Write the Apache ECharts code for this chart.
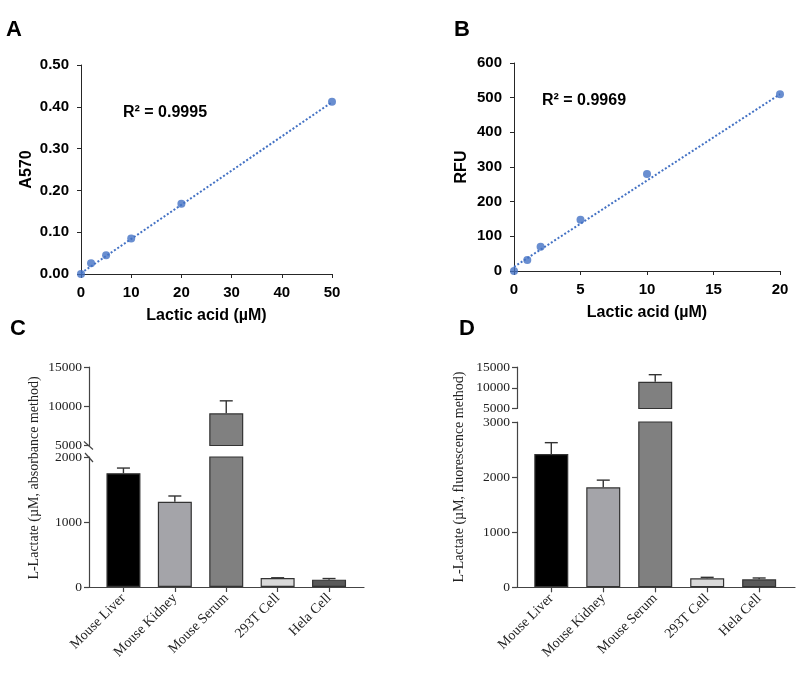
<!DOCTYPE html>
<html>
<head>
<meta charset="utf-8">
<script src="https://cdn.jsdelivr.net/npm/echarts@6.0.0/dist/echarts.min.js"></script>
<style>
html, body { margin: 0; padding: 0; background: #fff; }
#main { width: 806px; height: 673px; }
</style>
</head>
<body>
<div id="main"></div>
<script>
// A: absorbance standard curve
var concA = [0, 2, 5, 10, 20, 50];
var a570 = [0, 0.026, 0.045, 0.085, 0.168, 0.412];
var trendA = [[0, 0.002], [50, 0.411]];

// B: fluorescence standard curve
var concB = [0, 1, 2, 5, 10, 20];
var rfu = [0, 32, 70, 148, 280, 510];
var trendB = [[0, 12], [20, 510]];

// C / D: samples
var samples = ['Mouse Liver', 'Mouse Kidney', 'Mouse Serum', '293T Cell', 'Hela Cell'];
var lactateAbs = [1750, 1310, 9100, 138, 113];
var errAbs = [80, 90, 1590, 4, 17];
var lactateFlu = [2420, 1815, 11450, 163, 145];
var errFlu = [205, 130, 1700, 18, 24];
var sampleColors = ['#000000', '#a4a4a9', '#808080', '#d9d9d9', '#595959'];

var sans = '"Liberation Sans", Arial, sans-serif';
var serif = '"Liberation Serif", "Times New Roman", serif';
var axisColor = '#262626';
var blue = '#4472c4';

var myChart = echarts.init(document.getElementById('main'));

function pairs(xs, ys) {
	var out = [];
	for (var i = 0; i < xs.length; i++) out.push([xs[i], ys[i]]);
	return out;
}

// 散点图坐标轴
function curveX(grid, max, step, name) {
	return {
		type: 'value', gridIndex: grid, min: 0, max: max, interval: step,
		name: name, nameLocation: 'middle', nameGap: 34,
		nameTextStyle: { fontFamily: sans, fontWeight: 'bold', fontSize: 16, color: '#000' },
		axisLine: { show: true, onZero: false, lineStyle: { color: axisColor, width: 1 } },
		axisTick: { show: true, length: 4, lineStyle: { color: axisColor } },
		axisLabel: { fontFamily: sans, fontWeight: 'bold', fontSize: 15, color: '#000', margin: 11 },
		splitLine: { show: false }
	};
}
function curveY(grid, max, step, name, gap, fmt) {
	return {
		type: 'value', gridIndex: grid, min: 0, max: max, interval: step,
		name: name, nameLocation: 'middle', nameGap: gap,
		nameTextStyle: { fontFamily: sans, fontWeight: 'bold', fontSize: 16, color: '#000' },
		axisLine: { show: true, onZero: false, lineStyle: { color: axisColor, width: 1 } },
		axisTick: { show: true, length: 4, lineStyle: { color: axisColor } },
		axisLabel: { fontFamily: sans, fontWeight: 'bold', fontSize: 15, color: '#000', margin: 12, formatter: fmt },
		splitLine: { show: false }
	};
}

// 柱状图坐标轴
function barX(grid, min, max, visible) {
	return {
		type: 'value', gridIndex: grid, min: min, max: max, show: visible,
		axisLine: { show: true, onZero: false, lineStyle: { color: '#444', width: 1.2 } },
		axisTick: { show: true, length: 5, customValues: [0, 1, 2, 3, 4], lineStyle: { color: '#444', width: 1.2 } },
		axisLabel: {
			customValues: [0, 1, 2, 3, 4], rotate: 45, margin: 9,
			fontFamily: serif, fontSize: 14, color: '#222',
			formatter: function (v) { return samples[Math.round(v)]; }
		},
		splitLine: { show: false }
	};
}
function barY(grid, min, max, step) {
	return {
		type: 'value', gridIndex: grid, min: min, max: max, interval: step,
		axisLine: { show: true, onZero: false, lineStyle: { color: '#444', width: 1.2 } },
		axisTick: { show: true, length: 5, lineStyle: { color: '#444', width: 1.2 } },
		axisLabel: {
			fontFamily: serif, fontSize: 13.5, color: '#222', margin: 7,
			formatter: function (v) { return String(v); }
		},
		splitLine: { show: false }
	};
}

function barSeries(grid, vals, keep) {
	var data = [];
	for (var i = 0; i < vals.length; i++) {
		if (keep(vals[i])) {
			data.push({ value: [i, vals[i]], itemStyle: { color: sampleColors[i] } });
		}
	}
	return {
		type: 'bar', xAxisIndex: grid, yAxisIndex: grid, barWidth: 34, clip: true,
		itemStyle: { borderColor: '#333', borderWidth: 1.2 },
		data: data, z: 2
	};
}

function errorSeries(grid, vals, errs, keep) {
	var data = [];
	for (var i = 0; i < vals.length; i++) {
		if (keep(vals[i])) data.push([i, vals[i], vals[i] + errs[i]]);
	}
	return {
		type: 'custom', xAxisIndex: grid, yAxisIndex: grid, data: data, z: 3,
		renderItem: function (params, api) {
			var base = api.coord([api.value(0), api.value(1)]);
			var top = api.coord([api.value(0), api.value(2)]);
			var st = { stroke: '#333', lineWidth: 1.4 };
			return {
				type: 'group', children: [
					{ type: 'line', shape: { x1: base[0], y1: base[1], x2: top[0], y2: top[1] }, style: st },
					{ type: 'line', shape: { x1: top[0] - 6.5, y1: top[1], x2: top[0] + 6.5, y2: top[1] }, style: st }
				]
			};
		}
	};
}

var lowC = 2000, lowD = 3000;
function isLow(max) { return function (v) { return v <= max; }; }
function anyVal() { return true; }
function isHigh(max) { return function (v) { return v > max; }; }

var letter = { fontFamily: sans, fontWeight: 'bold', fontSize: 22, color: '#000' };

var option = {
	backgroundColor: '#fff',
	animation: false,
	title: [
		{ text: 'A', left: 6, top: 19, padding: 0, textStyle: letter },
		{ text: 'B', left: 454, top: 19, padding: 0, textStyle: letter },
		{ text: 'C', left: 10, top: 318, padding: 0, textStyle: letter },
		{ text: 'D', left: 459, top: 318, padding: 0, textStyle: letter }
	],
	grid: [
		{ left: 81, top: 65, width: 251, height: 209 },
		{ left: 514, top: 63, width: 266, height: 208 },
		{ left: 89, top: 367, width: 275, height: 78.5 },
		{ left: 89, top: 457, width: 275, height: 130 },
		{ left: 517, top: 367, width: 278, height: 41.5 },
		{ left: 517, top: 422, width: 278, height: 165.3 }
	],
	xAxis: [
		curveX(0, 50, 10, 'Lactic acid (µM)'),
		curveX(1, 20, 5, 'Lactic acid (µM)'),
		barX(2, -0.67, 4.68, false),
		barX(3, -0.67, 4.68, true),
		barX(4, -0.66, 4.69, false),
		barX(5, -0.66, 4.69, true)
	],
	yAxis: [
		curveY(0, 0.5, 0.1, 'A570', 46, function (v) { return v.toFixed(2); }),
		curveY(1, 600, 100, 'RFU', 44),
		barY(2, 5000, 15000, 5000),
		barY(3, 0, lowC, 1000),
		barY(4, 5000, 15000, 5000),
		barY(5, 0, lowD, 1000)
	],
	series: [
		{
			type: 'line', xAxisIndex: 0, yAxisIndex: 0, data: trendA, symbol: 'none',
			lineStyle: { type: 'dotted', width: 2, color: blue }, z: 1
		},
		{
			type: 'scatter', xAxisIndex: 0, yAxisIndex: 0, data: pairs(concA, a570),
			symbolSize: 8, itemStyle: { color: blue }, clip: false, z: 2
		},
		{
			type: 'line', xAxisIndex: 1, yAxisIndex: 1, data: trendB, symbol: 'none',
			lineStyle: { type: 'dotted', width: 2, color: blue }, z: 1
		},
		{
			type: 'scatter', xAxisIndex: 1, yAxisIndex: 1, data: pairs(concB, rfu),
			symbolSize: 8, itemStyle: { color: blue }, clip: false, z: 2
		},
		barSeries(2, lactateAbs, isHigh(lowC)),
		barSeries(3, lactateAbs, anyVal),
		errorSeries(2, lactateAbs, errAbs, isHigh(lowC)),
		errorSeries(3, lactateAbs, errAbs, isLow(lowC)),
		barSeries(4, lactateFlu, isHigh(lowD)),
		barSeries(5, lactateFlu, anyVal),
		errorSeries(4, lactateFlu, errFlu, isHigh(lowD)),
		errorSeries(5, lactateFlu, errFlu, isLow(lowD))
	]
};
myChart.setOption(option);

// 注释文字和断轴符号
var p5000 = myChart.convertToPixel({ gridIndex: 2 }, [-0.67, 5000]);
var p2000 = myChart.convertToPixel({ gridIndex: 3 }, [-0.67, lowC]);
var slash = { stroke: '#444', lineWidth: 1.2 };
myChart.setOption({
	graphic: [
		{ type: 'text', x: 123, y: 113, style: { text: 'R² = 0.9995', font: 'bold 16px ' + sans, fill: '#000', textVerticalAlign: 'middle' } },
		{ type: 'text', x: 542, y: 101, style: { text: 'R² = 0.9969', font: 'bold 16px ' + sans, fill: '#000', textVerticalAlign: 'middle' } },
		{
			type: 'text', x: 34, y: 478, rotation: Math.PI / 2,
			style: { text: 'L-Lactate (µM, absorbance method)', font: '14px ' + serif, fill: '#222', textAlign: 'center', textVerticalAlign: 'middle' }
		},
		{
			type: 'text', x: 459, y: 477, rotation: Math.PI / 2,
			style: { text: 'L-Lactate (µM, fluorescence method)', font: '14px ' + serif, fill: '#222', textAlign: 'center', textVerticalAlign: 'middle' }
		},
		{ type: 'line', shape: { x1: p5000[0] - 5, y1: p5000[1] - 4, x2: p5000[0] + 4, y2: p5000[1] + 4 }, style: slash },
		{ type: 'line', shape: { x1: p2000[0] - 4, y1: p2000[1] - 4, x2: p2000[0] + 4, y2: p2000[1] + 5 }, style: slash }
	]
});
</script>
</body>
</html>
